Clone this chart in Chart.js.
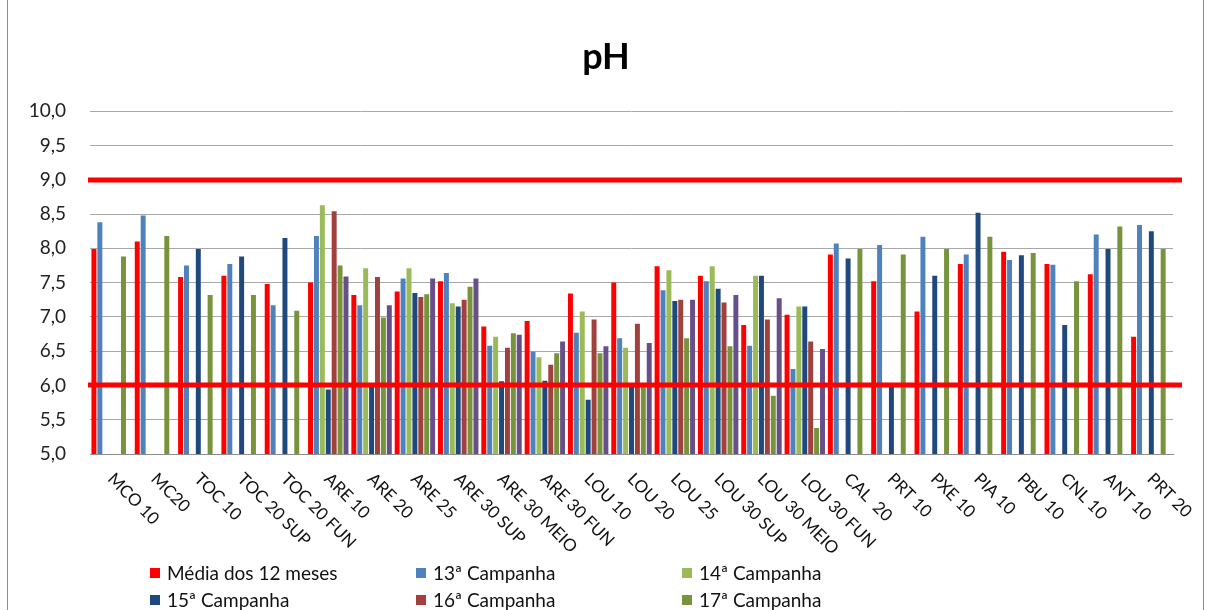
<!DOCTYPE html>
<html>
<head>
<meta charset="utf-8">
<script src="https://cdn.jsdelivr.net/npm/chart.js@4"></script>
<style>
  body { margin: 0; width: 1212px; height: 610px; overflow: hidden; position: relative; background: #fff; font-family: Lato, "Noto Sans", sans-serif; }
  #frame { position: absolute; left: 7px; top: -2px; width: 1197px; height: 640px; border: 1px solid #8c8c8c; box-sizing: border-box; }
  #wrap { position: absolute; left: 0; top: 0; width: 1212px; height: 610px; }
  #legend { position: absolute; left: 150px; top: 561px; width: 800px; }
  .item { position: absolute; display: flex; align-items: center; font-size: 19px; color: #111; white-space: nowrap; }
  .item span.sw { display: inline-block; width: 10px; height: 10px; margin-right: 7px; }
</style>
</head>
<body>
<div id="frame"></div>
<div id="wrap"><canvas id="phChart"></canvas></div>
<div id="legend"></div>
<script>
// dados
const categories = ["MCO 10", "MC20", "TOC 10", "TOC 20 SUP", "TOC 20 FUN", "ARE 10", "ARE 20", "ARE 25",
    "ARE 30 SUP", "ARE 30 MEIO", "ARE 30 FUN", "LOU 10", "LOU 20", "LOU 25", "LOU 30 SUP", "LOU 30 MEIO",
    "LOU 30 FUN", "CAL  20", "PRT 10", "PXE 10", "PIA 10", "PBU 10", "CNL 10", "ANT 10", "PRT 20"];

const media12 = [7.99, 8.10, 7.58, 7.60, 7.48, 7.50, 7.32, 7.37, 7.52, 6.86, 6.94, 7.34, 7.50, 7.74, 7.60, 6.88, 7.03, 7.91, 7.52, 7.08, 7.77, 7.95, 7.77, 7.62, 6.71];
const camp13 = [8.38, 8.48, 7.75, 7.77, 7.17, 8.18, 7.17, 7.56, 7.64, 6.58, 6.49, 6.77, 6.69, 7.39, 7.52, 6.58, 6.24, 8.07, 8.05, 8.17, 7.91, 7.83, 7.76, 8.20, 8.34];
const camp14 = [null, null, null, null, null, 8.63, 7.71, 7.71, 7.20, 6.71, 6.41, 7.08, 6.55, 7.68, 7.74, 7.60, 7.15, null, null, null, null, null, null, null, null];
const camp15 = [null, null, 7.99, 7.88, 8.15, 5.94, 5.99, 7.35, 7.15, 6.06, 6.07, 5.79, 5.98, 7.23, 7.41, 7.60, 7.15, 7.85, 5.98, 7.60, 8.52, 7.90, 6.88, 7.99, 8.25];
const camp16 = [null, null, null, null, null, 8.54, 7.58, 7.29, 7.25, 6.55, 6.30, 6.96, 6.90, 7.25, 7.21, 6.96, 6.64, null, null, null, null, null, null, null, null];
const camp17 = [7.88, 8.18, 7.32, 7.32, 7.09, 7.75, 6.99, 7.33, 7.44, 6.76, 6.47, 6.47, 5.98, 6.69, 6.57, 5.85, 5.38, 7.99, 7.91, 7.99, 8.17, 7.93, 7.52, 8.32, 7.99];
const camp18 = [null, null, null, null, null, 7.59, 7.17, 7.56, 7.56, 6.74, 6.64, 6.57, 6.62, 7.25, 7.32, 7.27, 6.53, null, null, null, null, null, null, null, null];

const seriesNames = ["Média dos 12 meses", "13ª Campanha", "14ª Campanha", "15ª Campanha", "16ª Campanha", "17ª Campanha", "18ª Campanha"];
const seriesValues = [media12, camp13, camp14, camp15, camp16, camp17, camp18];
const seriesColors = ["#ff0000", "#4f81bd", "#9bbb59", "#1f497d", "#a0413d", "#77933c", "#67508a"];

const limits = [6, 9];   // limites de pH
const yMin = 5, yMax = 10, yStep = 0.5;

// linhas vermelhas dos limites
const limitLines = {
    id: "limitLines",
    afterDatasetsDraw(chart) {
        const y = chart.scales.y, area = chart.chartArea, ctx = chart.ctx;
        ctx.save();
        ctx.strokeStyle = "#ff0000";
        ctx.lineWidth = 5;
        limits.forEach(function (v) {
            const py = Math.round(y.getPixelForValue(v));
            ctx.beginPath();
            ctx.moveTo(area.left - 2, py);
            ctx.lineTo(area.right + 9, py);
            ctx.stroke();
        });
        ctx.restore();
    }
};

// rótulos do eixo x inclinados para baixo
const slantLabels = {
    id: "slantLabels",
    afterDraw(chart) {
        const x = chart.scales.x, ctx = chart.ctx;
        ctx.save();
        ctx.font = "17px Lato";
        ctx.fillStyle = "#111";
        ctx.textAlign = "left";
        ctx.textBaseline = "alphabetic";
        categories.forEach(function (label, i) {
            ctx.save();
            ctx.translate(x.getPixelForValue(i) - 5, chart.chartArea.bottom + 26);
            ctx.rotate(Math.PI / 4);
            ctx.fillText(label, 0, 0);
            ctx.restore();
        });
        ctx.restore();
    }
};

new Chart(document.getElementById("phChart").getContext("2d"), {
    type: "bar",
    data: {
        labels: categories,
        datasets: seriesNames.map(function (name, i) {
            return {
                label: name,
                data: seriesValues[i],
                backgroundColor: seriesColors[i],
                borderWidth: 0,
                categoryPercentage: 0.955,
                barPercentage: 0.84
            };
        })
    },
    options: {
        responsive: true,
        maintainAspectRatio: false,
        animation: false,
        layout: { padding: 0 },
        plugins: {
            legend: { display: false },
            tooltip: { enabled: false },
            title: {
                display: true,
                text: "pH",
                color: "#000",
                font: { family: "Lato", size: 36, weight: "bold", lineHeight: 1.2 },
                padding: { top: 36, bottom: 32 }
            }
        },
        scales: {
            x: {
                grid: { display: false },
                border: { display: true, color: "#8c8c8c", width: 1 },
                ticks: { display: false },
                afterFit: function (scale) { scale.height = 156; }
            },
            y: {
                min: yMin,
                max: yMax,
                grid: { color: "#a9a9a9", lineWidth: 1, drawTicks: false },
                border: { display: false },
                ticks: {
                    stepSize: yStep,
                    padding: 24,
                    color: "#222",
                    font: { family: "Lato", size: 19 },
                    callback: function (v) { return v.toFixed(1).replace(".", ","); }
                },
                afterFit: function (scale) { scale.width = 90; }
            },
            // espaço vazio à direita da área do gráfico
            yRight: {
                position: "right",
                min: yMin,
                max: yMax,
                grid: { display: false },
                border: { display: false },
                ticks: { display: false },
                afterFit: function (scale) { scale.width = 39; }
            }
        }
    },
    plugins: [limitLines, slantLabels]
});

// legenda em três colunas
const legend = document.getElementById("legend");
seriesNames.forEach(function (name, i) {
    const el = document.createElement("div");
    el.className = "item";
    el.style.left = (i % 3) * 266 + "px";
    el.style.top = Math.floor(i / 3) * 27 + "px";
    el.innerHTML = '<span class="sw" style="background:' + seriesColors[i] + '"></span>' + name;
    legend.appendChild(el);
});
</script>
</body>
</html>
